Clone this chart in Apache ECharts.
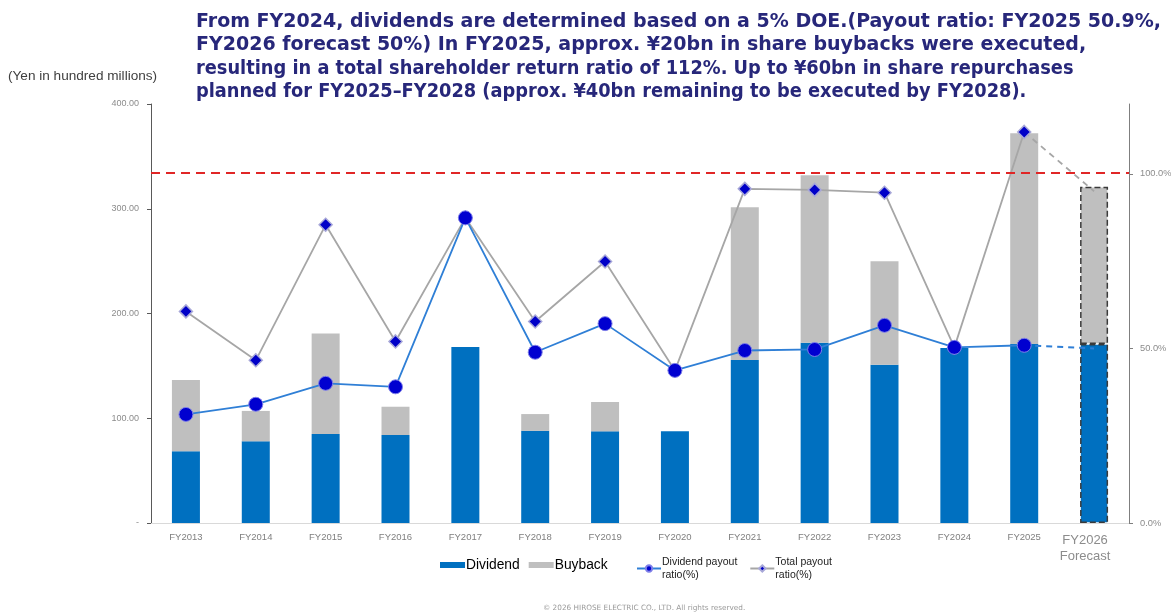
<!DOCTYPE html>
<html>
<head>
<meta charset="utf-8">
<script src="https://cdn.jsdelivr.net/npm/echarts@6/dist/echarts.min.js"></script>
<style>
  html, body { margin: 0; padding: 0; background: #ffffff; }
  #chart { width: 1171px; height: 614px; }
</style>
</head>
<body>
<div id="chart"></div>
<script>
// Fiscal years on the category axis
const years = ['FY2013','FY2014','FY2015','FY2016','FY2017','FY2018','FY2019',
               'FY2020','FY2021','FY2022','FY2023','FY2024','FY2025','FY2026'];

// Amounts in hundred millions of yen
const dividend = [68.5, 78, 85, 84, 168, 88, 87.5, 87.5, 155.5, 172, 151, 167, 171, 171];
const buyback  = [68, 29, 96, 27, 0, 16, 28, 0, 146, 160, 99, 0, 201, 150];

// Ratios in percent (last entry is the FY2026 forecast)
const dividendPayout = [31.1, 34, 40, 39, 87.4, 48.9, 57.1, 43.7, 49.4, 49.7, 56.6, 50.3, 50.9, 50];
const totalPayout    = [60.6, 46.6, 85.4, 52, 87.4, 57.7, 74.9, 43.7, 95.7, 95.4, 94.6, 50.3, 112, 95];

const leftTicks  = [0, 100, 200, 300, 400];
const rightTicks = [0, 50, 100];

const titleLines = [
  'From FY2024, dividends are determined based on a 5% DOE.(Payout ratio: FY2025 50.9%,',
  'FY2026 forecast 50%) In FY2025, approx. ¥20bn in share buybacks were executed,',
  'resulting in a total shareholder return ratio of 112%. Up to ¥60bn in share repurchases',
  'planned for FY2025\u2013FY2028 (approx. ¥40bn remaining to be executed by FY2028).'
];

const last = years.length - 1;

// Actual years get solid bars; the forecast year gets a dashed outline
function barData(values) {
  return values.map((v, i) => {
    if (v === 0) return null;
    if (i === last) {
      return { value: v, itemStyle: { borderType: 'dashed', borderColor: '#3a3a3a', borderWidth: 1.5 } };
    }
    return v;
  });
}

// Solid line covers actual years, dashed segment joins the last actual year to the forecast
const actualPart   = arr => arr.map((v, i) => (i === last ? null : v));
const forecastPart = arr => arr.map((v, i) => (i >= last - 1 ? v : null));

const chart = echarts.init(document.getElementById('chart'));

const titleFont = 'Verdana, "DejaVu Sans", sans-serif';
const titleFontNarrow = '"DejaVu Sans Condensed", "DejaVu Sans", sans-serif';
const bodyFont = '"Liberation Sans", Arial, sans-serif';

chart.setOption({
  backgroundColor: '#ffffff',
  animation: false,
  title: [
    {
      left: 191,
      top: 5,
      text: titleLines.map((t, i) => (i < 2 ? '{a|' + t + '}' : '{b|' + t + '}')).join('\n'),
      textStyle: {
        rich: {
          a: { fontFamily: titleFont, fontWeight: 'bold', fontSize: 19, color: '#27277a', lineHeight: 23.4 },
          b: { fontFamily: titleFontNarrow, fontWeight: 'bold', fontSize: 19.8, color: '#27277a', lineHeight: 23.4 }
        }
      }
    },
    {
      left: 3,
      top: 64,
      text: '(Yen in hundred millions)',
      textStyle: { fontFamily: bodyFont, fontWeight: 'normal', fontSize: 13.6, color: '#404040' }
    },
    {
      left: 538,
      top: 600,
      text: '\u00a9 2026 HIROSE ELECTRIC CO., LTD. All rights reserved.',
      textStyle: { fontFamily: '"DejaVu Sans", sans-serif', fontWeight: 'normal', fontSize: 7.3, color: '#9a9a9a' }
    }
  ],
  legend: [
    {
      data: ['Dividend', 'Buyback'],
      left: 435,
      top: 553,
      itemWidth: 25,
      itemHeight: 6,
      itemGap: 9,
      icon: 'rect',
      textStyle: { fontFamily: bodyFont, fontSize: 13.8, color: '#000000', padding: [0, 0, 0, -4] },
      selectedMode: false
    },
    {
      data: ['Dividend payout\nratio(%)', 'Total payout\nratio(%)'],
      left: 631,
      top: 551,
      itemWidth: 24,
      itemHeight: 8,
      itemGap: 12,
      textStyle: { fontFamily: bodyFont, fontSize: 10.5, lineHeight: 12.5, color: '#222222', padding: [0, 0, 0, -4] },
      selectedMode: false
    }
  ],
  grid: { left: 151, right: 42, top: 104, bottom: 91, containLabel: false, outerBoundsMode: 'none' },
  xAxis: {
    type: 'category',
    data: years,
    axisLine: { show: true, lineStyle: { color: '#d9d9d9', width: 1 } },
    axisTick: { show: false },
    axisLabel: {
      margin: 9,
      interval: 0,
      fontFamily: bodyFont,
      fontSize: 9.5,
      color: '#7f7f7f',
      formatter: (v, i) => (i === last ? '{f|' + v + '}\n{f|Forecast}' : v),
      rich: { f: { fontFamily: bodyFont, fontSize: 13, color: '#8c8c8c', lineHeight: 16, padding: [0, 18, 0, 0] } }
    }
  },
  yAxis: [
    {
      type: 'value',
      min: 0,
      max: 400,
      interval: 100,
      axisLine: { show: true, lineStyle: { color: '#595959', width: 1 } },
      axisTick: { show: true, length: 4, lineStyle: { color: '#595959' } },
      splitLine: { show: false },
      axisLabel: {
        margin: 12,
        fontFamily: bodyFont,
        fontSize: 9,
        color: '#8c8c8c',
        customValues: leftTicks,
        formatter: v => (v === 0 ? '-' : v.toFixed(2))
      }
    },
    {
      type: 'value',
      min: 0,
      max: 120,
      interval: 50,
      position: 'right',
      axisLine: { show: true, lineStyle: { color: '#7f7f7f', width: 1 } },
      axisTick: { show: true, length: 4, customValues: rightTicks, lineStyle: { color: '#7f7f7f' } },
      splitLine: { show: false },
      axisLabel: {
        margin: 11,
        fontFamily: bodyFont,
        fontSize: 9.3,
        color: '#8c8c8c',
        customValues: rightTicks,
        formatter: v => v.toFixed(1) + '%'
      }
    }
  ],
  series: [
    {
      name: 'Dividend',
      type: 'bar',
      stack: 'return',
      barWidth: 28,
      itemStyle: { color: '#0070c0' },
      data: barData(dividend)
    },
    {
      name: 'Buyback',
      type: 'bar',
      stack: 'return',
      barWidth: 28,
      itemStyle: { color: '#bfbfbf' },
      data: barData(buyback),
      markLine: {
        silent: true,
        symbol: 'none',
        label: { show: false },
        lineStyle: { color: '#e02626', type: [9, 6], width: 2 },
        data: [{ yAxis: 334.5 }]
      }
    },
    {
      name: 'Total payout\nratio(%)',
      type: 'line',
      yAxisIndex: 1,
      z: 3,
      data: actualPart(totalPayout),
      symbol: 'diamond',
      symbolSize: [13, 13],
      lineStyle: { color: '#a6a6a6', width: 1.8 },
      itemStyle: { color: '#0000c8', borderColor: '#a8a8d8', borderWidth: 1.5 }
    },
    {
      name: 'Total forecast',
      type: 'line',
      yAxisIndex: 1,
      z: 3,
      data: forecastPart(totalPayout),
      showSymbol: false,
      symbol: 'none',
      lineStyle: { color: '#a6a6a6', width: 1.8, type: [6, 5] }
    },
    {
      name: 'Dividend payout\nratio(%)',
      type: 'line',
      yAxisIndex: 1,
      z: 4,
      data: actualPart(dividendPayout),
      symbol: 'circle',
      symbolSize: 14,
      lineStyle: { color: '#2f7fd6', width: 1.8 },
      itemStyle: { color: '#0000d0', borderColor: '#7f7fe8', borderWidth: 1 }
    },
    {
      name: 'Dividend forecast',
      type: 'line',
      yAxisIndex: 1,
      z: 4,
      data: forecastPart(dividendPayout),
      showSymbol: false,
      symbol: 'none',
      lineStyle: { color: '#2f7fd6', width: 2, type: [6, 5] }
    }
  ]
});
</script>
</body>
</html>
